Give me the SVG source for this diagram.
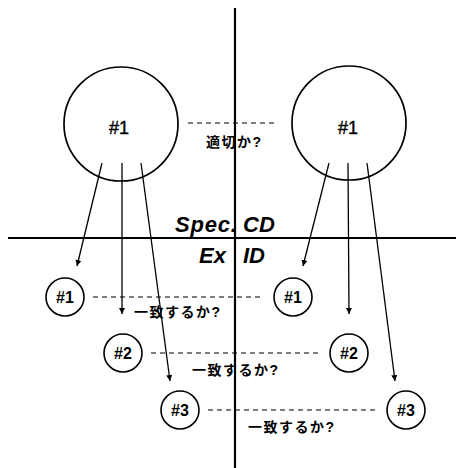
<svg xmlns="http://www.w3.org/2000/svg" width="456" height="468" viewBox="0 0 456 468">
<style>
.ax{stroke:#000;stroke-width:2.2;fill:none}
.big{stroke:#000;stroke-width:1.7;fill:none}
.sm{stroke:#000;stroke-width:1.6;fill:none}
.arr{stroke:#000;stroke-width:1.3;fill:none;marker-end:url(#ah)}
.dash{stroke:#000;stroke-width:1.1;stroke-dasharray:5,4;fill:none}
.lbl{font-family:"Liberation Sans",Arial,sans-serif;font-size:16px;font-weight:bold;fill:#000;text-anchor:middle}
.blbl{font-family:"Liberation Sans",Arial,sans-serif;font-size:18px;fill:#000;text-anchor:middle;stroke:#000;stroke-width:0.4}
.jp{font-family:"Liberation Sans","Noto Sans CJK JP",sans-serif;font-size:14px;font-weight:bold;letter-spacing:1.5px;fill:#000}
.hd{font-family:"Liberation Sans",Arial,sans-serif;font-size:22px;font-weight:bold;font-style:italic;fill:#000}
</style>
<defs>
<marker id="ah" viewBox="0 0 10 10" refX="10" refY="5" markerWidth="6" markerHeight="10" markerUnits="userSpaceOnUse" orient="auto">
<path d="M0,0 L10,5 L0,10 z" fill="#000"/>
</marker>
</defs>
<g id="axes">
<line class="ax" x1="235" y1="8" x2="235" y2="468"/>
<line class="ax" x1="8" y1="238" x2="456" y2="238"/>
<text class="hd" x="175" y="232" letter-spacing="0.8">Spec.<tspan x="243" letter-spacing="0">CD</tspan></text>
<text class="hd" x="199" y="263">Ex<tspan x="243">ID</tspan></text>
</g>
<g id="spec-left">
<circle class="big" cx="121" cy="124" r="57"/>
<text class="blbl" x="119" y="134">#1</text>
</g>
<g id="spec-right">
<circle class="big" cx="349" cy="123" r="57"/>
<text class="blbl" x="348" y="134">#1</text>
</g>
<g id="ex-left-1"><circle class="sm" cx="65" cy="297" r="19"/><text class="lbl" x="65" y="303">#1</text></g>
<g id="ex-left-2"><circle class="sm" cx="123" cy="353" r="19"/><text class="lbl" x="123" y="359">#2</text></g>
<g id="ex-left-3"><circle class="sm" cx="180" cy="410" r="19"/><text class="lbl" x="180" y="416">#3</text></g>
<g id="ex-right-1"><circle class="sm" cx="293" cy="297" r="19"/><text class="lbl" x="293" y="303">#1</text></g>
<g id="ex-right-2"><circle class="sm" cx="349" cy="353" r="19"/><text class="lbl" x="349" y="359">#2</text></g>
<g id="ex-right-3"><circle class="sm" cx="406" cy="410" r="19"/><text class="lbl" x="406" y="416">#3</text></g>
<g id="connectors">
<line class="arr" x1="102" y1="163" x2="77" y2="266"/>
<line class="arr" x1="122" y1="163" x2="122" y2="314"/>
<line class="arr" x1="141" y1="163" x2="170" y2="381"/>
<line class="arr" x1="329" y1="163" x2="303" y2="266"/>
<line class="arr" x1="348" y1="163" x2="349" y2="314"/>
<line class="arr" x1="367" y1="163" x2="395" y2="381"/>
<line class="dash" x1="188" y1="123" x2="278" y2="123"/>
<line class="dash" x1="93" y1="297" x2="262" y2="297"/>
<line class="dash" x1="151" y1="353" x2="318" y2="353"/>
<line class="dash" x1="208" y1="410" x2="375" y2="410"/>
<text class="jp" x="206" y="147">適切か?</text>
<text class="jp" x="134" y="317">一致するか?</text>
<text class="jp" x="192" y="375">一致するか?</text>
<text class="jp" x="248" y="432">一致するか?</text>
</g>
</svg>
